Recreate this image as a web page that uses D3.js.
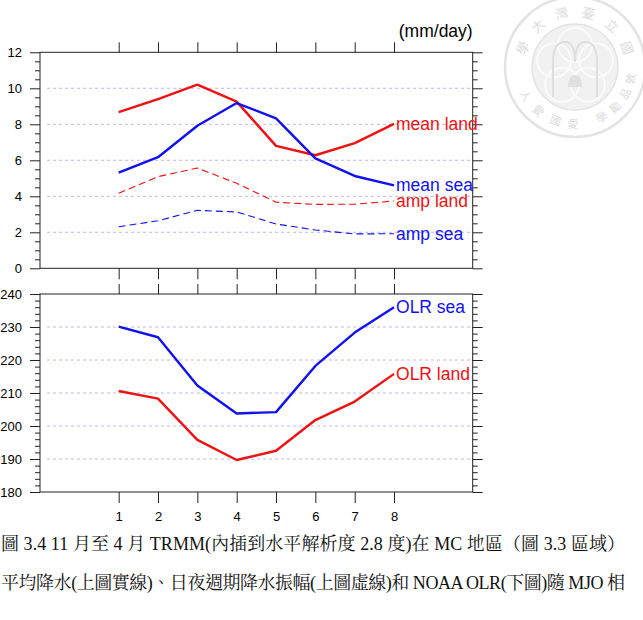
<!DOCTYPE html>
<html><head><meta charset="utf-8">
<script src="https://cdn.jsdelivr.net/npm/d3@7"></script>
<style>body{margin:0;background:#fff}svg{display:block}</style>
</head><body>
<svg id="c" width="643" height="620"></svg>
<script>
// ---- data ----
const phases = [1, 2, 3, 4, 5, 6, 7, 8];
const meanLand = [8.68, 9.40, 10.20, 9.26, 6.80, 6.28, 6.95, 8.02];
const meanSea  = [5.31, 6.17, 7.92, 9.18, 8.33, 6.11, 5.13, 4.61];
const ampLand  = [4.17, 5.09, 5.57, 4.72, 3.67, 3.55, 3.56, 3.74];
const ampSea   = [2.31, 2.64, 3.22, 3.13, 2.46, 2.13, 1.91, 1.92];
const olrSea   = [230.1, 226.9, 212.3, 203.8, 204.2, 218.2, 228.3, 236.0];
const olrLand  = [210.6, 208.3, 195.8, 189.7, 192.5, 201.8, 207.4, 215.8];
const topYTicks = [0, 2, 4, 6, 8, 10, 12];
const botYTicks = [180, 190, 200, 210, 220, 230, 240];
const unitLabel = "(mm/day)";
const captionLines = [
  "圖 3.4 11 月至 4 月 TRMM(內插到水平解析度 2.8 度)在 MC 地區（圖 3.3 區域）",
  "平均降水(上圖實線)、日夜週期降水振幅(上圖虛線)和 NOAA OLR(下圖)隨 MJO 相"
];
const sealTop = ["學", "大", "灣", "臺", "立", "國"];
const sealBottom = ["人", "愛", "國", "愛", "學", "勵", "品", "敦"];

// ---- setup ----
const svg = d3.select("#c");
const RED = "#ee1111", BLUE = "#1111ee";
const x = d3.scaleLinear().domain([-1, 10]).range([40, 472.7]);
const yT = d3.scaleLinear().domain([0, 12]).range([268.3, 52.3]);
const yB = d3.scaleLinear().domain([180, 240]).range([492, 294]);

// ---- watermark ----
(function seal() {
  const g = svg.append("g").attr("transform", "translate(575,67)");
  g.append("circle").attr("r", 70).attr("fill", "none").attr("stroke", "#e3e3e3").attr("stroke-width", 2.5);
  g.append("circle").attr("r", 43).attr("fill", "#f1f1f1").attr("stroke", "#e3e3e3").attr("stroke-width", 1.5);
  [-90, -18, 54, 126, 198].forEach(a => {
    const r = a * Math.PI / 180;
    g.append("circle").attr("cx", 22 * Math.cos(r)).attr("cy", 22 * Math.sin(r)).attr("r", 17)
      .attr("fill", "none").attr("stroke", "#fafafa").attr("stroke-width", 2);
  });
  g.append("path").attr("d", "M-22,30 L-22,-5 Q-22,-25 -10,-25 Q0,-25 0,-5 Q0,-25 10,-25 Q22,-25 22,-5 L22,30")
    .attr("fill", "none").attr("stroke", "#dedede").attr("stroke-width", 2);
  g.append("path").attr("d", "M-7,20 Q-7,8 0,8 Q7,8 7,20 Z").attr("fill", "#e0e0e0");
  const R = 56;
  const topA = d3.range(sealTop.length).map(i => -160 + i * 28);
  sealTop.forEach((c, i) => {
    const a = topA[i] * Math.PI / 180;
    g.append("text").attr("x", R * Math.cos(a)).attr("y", R * Math.sin(a))
      .attr("transform", `rotate(${topA[i] + 90},${R * Math.cos(a)},${R * Math.sin(a)})`)
      .attr("text-anchor", "middle").attr("dominant-baseline", "central")
      .attr("font-family", "Noto Sans CJK TC").attr("font-size", 13).attr("fill", "#dcdcdc").text(c);
  });
  const botA = [150, 130, 110, 92, 62, 45, 28, 12];
  sealBottom.forEach((c, i) => {
    const a = botA[i] * Math.PI / 180;
    g.append("text").attr("x", R * Math.cos(a)).attr("y", R * Math.sin(a))
      .attr("transform", `rotate(${botA[i] - 90},${R * Math.cos(a)},${R * Math.sin(a)})`)
      .attr("text-anchor", "middle").attr("dominant-baseline", "central")
      .attr("font-family", "Noto Sans CJK TC").attr("font-size", 11).attr("fill", "#dcdcdc").text(c);
  });
})();

// ---- panel helper ----
function panel(y, majors, minorStep, showXLabels) {
  const g = svg.append("g");
  const [y0, y1] = y.range();
  const [x0, x1] = x.range();
  g.selectAll("line.grid").data(majors.slice(1, -1)).join("line")
    .attr("x1", x0 + 7).attr("x2", x1 - 2)
    .attr("y1", d => y(d)).attr("y2", d => y(d))
    .attr("stroke", "#babaf0").attr("stroke-width", 1).attr("stroke-dasharray", "3,3");
  const dom = y.domain();
  const minors = d3.range(dom[0], dom[1] + 1e-9, minorStep).filter(v => !majors.some(m => Math.abs(m - v) < 1e-9));
  const style = sel => {
    sel.select(".domain").remove();
    sel.selectAll("line").attr("stroke", "#222");
    sel.selectAll("text").attr("font-family", "Liberation Sans, Arial, sans-serif").attr("font-size", 13).attr("fill", "#000");
  };
  g.append("g").attr("transform", `translate(${x0},0)`)
    .call(d3.axisLeft(y).tickValues(majors).tickSize(10).tickPadding(8).tickFormat(d3.format("d"))).call(style);
  g.append("g").attr("transform", `translate(${x0},0)`)
    .call(d3.axisLeft(y).tickValues(minors).tickSize(5).tickFormat("")).call(style);
  g.append("g").attr("transform", `translate(${x1},0)`)
    .call(d3.axisRight(y).tickValues(majors).tickSize(10).tickFormat("")).call(style);
  g.append("g").attr("transform", `translate(${x1},0)`)
    .call(d3.axisRight(y).tickValues(minors).tickSize(5).tickFormat("")).call(style);
  g.append("g").attr("transform", `translate(0,${y1})`)
    .call(d3.axisTop(x).tickValues(phases).tickSize(10).tickFormat("")).call(style);
  g.append("g").attr("transform", `translate(0,${y0})`)
    .call(d3.axisBottom(x).tickValues(phases).tickSize(11).tickPadding(9)
      .tickFormat(showXLabels ? d3.format("d") : "")).call(style);
  g.append("rect").attr("x", x0).attr("y", y1).attr("width", x1 - x0).attr("height", y0 - y1)
    .attr("fill", "none").attr("stroke", "#222").attr("stroke-width", 1);
  return g;
}

function series(g, y, vals, color, dashed, label) {
  const line = d3.line().x((d, i) => x(phases[i])).y(d => y(d));
  g.append("path").datum(vals).attr("d", line).attr("fill", "none")
    .attr("stroke", color).attr("stroke-width", dashed ? 1.1 : 2.4)
    .attr("stroke-linejoin", "round")
    .attr("stroke-dasharray", dashed ? "7,4" : null);
  g.append("text").attr("x", x(phases[phases.length - 1]) + 2).attr("y", y(vals[vals.length - 1]))
    .attr("dominant-baseline", "central")
    .attr("font-family", "Liberation Sans, Arial, sans-serif").attr("font-size", 17.5)
    .attr("fill", color).text(label);
}

const gt = panel(yT, topYTicks, 0.5, false);
series(gt, yT, meanLand, RED, false, "mean land");
series(gt, yT, meanSea, BLUE, false, "mean sea");
series(gt, yT, ampLand, RED, true, "amp land");
series(gt, yT, ampSea, BLUE, true, "amp sea");
svg.append("text").attr("x", x.range()[1]).attr("y", 31).attr("text-anchor", "end")
  .attr("dominant-baseline", "central")
  .attr("font-family", "Liberation Sans, Arial, sans-serif").attr("font-size", 17.5).attr("fill", "#000")
  .text(unitLabel);

const gb = panel(yB, botYTicks, 2, true);
series(gb, yB, olrSea, BLUE, false, "OLR sea");
series(gb, yB, olrLand, RED, false, "OLR land");

// ---- caption ----
const capY = [550, 589];
captionLines.forEach((t, i) => {
  svg.append("text").attr("x", 1).attr("y", capY[i])
    .attr("font-family", "Liberation Serif, 'Noto Serif CJK TC', 'Noto Sans CJK TC', serif")
    .attr("font-size", 18).attr("fill", "#111")
    .attr("textLength", 624).attr("lengthAdjust", "spacing")
    .text(t);
});
</script>
</body></html>
